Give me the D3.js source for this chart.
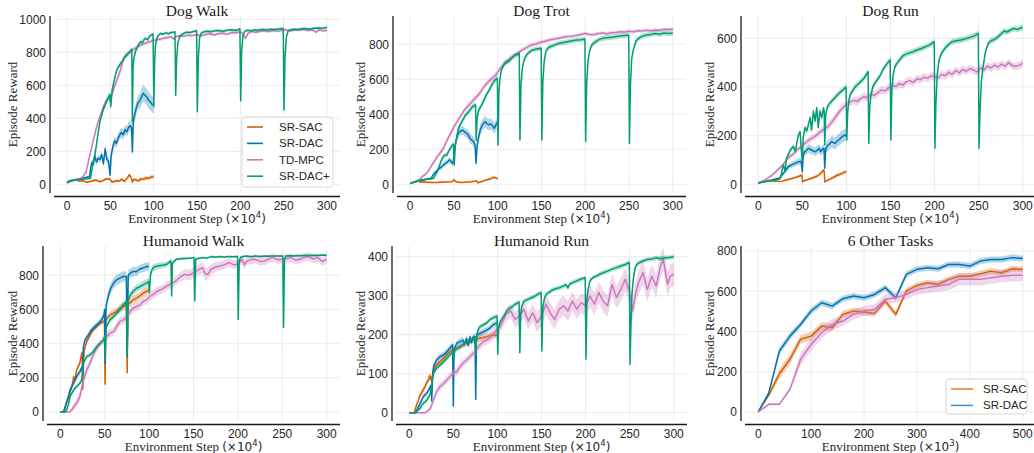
<!DOCTYPE html>
<html><head><meta charset="utf-8">
<script src="https://cdn.jsdelivr.net/npm/d3@7"></script>
<style>body{margin:0;background:#fff}svg{display:block}</style>
</head><body><svg id="c" width="1034" height="453"></svg>
<script>
// ---------------- DATA ([step, mean reward, half band]) ----------------
const seriesNames = ["SR-SAC", "SR-DAC", "TD-MPC", "SR-DAC+"];
const stepTicks = [0, 50, 100, 150, 200, 250, 300];
const otherTicks = [0, 100, 200, 300, 400, 500];

// Dog Walk
const dwSAC = [[0,8,3],[3,15,4],[6,22,5],[9,28,5],[12,24,5],[15,20,6],[18,22,6],[21,16,6],[24,12,6],[27,18,6],[30,22,7],[33,26,7],[36,20,7],[39,16,7],[42,24,8],[45,32,8],[48,34,8],[50,28,8],[52,14,8],[55,18,8],[58,22,8],[61,20,8],[63,32,9],[66,18,9],[68,28,9],[70,42,10],[72,58,10],[74,42,10],[75.5,14,10],[77,30,10],[80,26,10],[83,20,10],[85,34,11],[88,30,11],[91,38,12],[94,36,12],[97,44,12],[100,45,12]];
const dwDAC = [[0,12,4],[3,22,5],[6,24,5],[9,26,6],[12,30,6],[15,34,6],[18,36,7],[21,40,7],[24,44,8],[26,46,8],[27.5,105,15],[29,135,18],[30.5,120,18],[32,175,20],[34,135,20],[36,158,22],[38,150,22],[40,180,22],[42,125,24],[44,215,25],[46,150,25],[48,140,25],[49.6,55,25],[51,175,25],[53,230,28],[55,262,28],[57,248,28],[59,280,30],[61,300,30],[63,315,30],[65,300,30],[67,330,30],[69,318,32],[71,345,32],[73,355,32],[74.6,340,32],[75.4,196,30],[76.5,380,35],[78,420,40],[80,465,40],[82,495,45],[84,505,45],[86,530,48],[88,552,50],[90,540,50],[92,530,50],[94,510,50],[96,500,50],[98,485,50],[100,480,50]];
const dwTD = [[0,10,4],[4,18,5],[8,26,6],[12,32,6],[16,36,7],[19,50,8],[22,75,10],[24,120,12],[26,170,14],[28,215,15],[30,260,16],[32,300,16],[34,345,18],[36,380,18],[38,410,18],[40,440,18],[42,470,18],[44,495,18],[46,515,18],[48,525,18],[50,505,18],[52,545,18],[54,580,20],[56,610,20],[58,640,20],[60,665,20],[62,700,20],[64,740,20],[66,765,18],[68,785,18],[70,790,16],[72,800,16],[75,812,15],[78,822,15],[81,832,14],[84,840,14],[87,848,13],[90,855,12],[93,860,12],[96,866,12],[100,872,12],[104,876,11],[108,880,11],[112,886,10],[116,890,10],[120,895,10],[123,880,10],[126,896,10],[130,900,10],[135,898,10],[140,904,9],[145,902,9],[150,906,9],[155,900,9],[160,908,9],[165,912,9],[170,905,9],[175,914,9],[180,916,9],[185,910,9],[190,920,9],[195,918,9],[200,924,9],[203,912,9],[206,884,12],[209,916,9],[213,926,9],[218,922,9],[223,928,9],[228,930,9],[233,926,9],[238,932,9],[243,928,9],[248,934,9],[253,936,8],[258,930,8],[263,936,8],[268,934,8],[273,938,8],[278,932,8],[283,936,8],[287,922,8],[291,936,8],[295,930,8],[300,932,8]];
const dwPlus = [[0,10,4],[4,20,5],[8,24,5],[12,28,5],[16,30,5],[20,32,5],[24,34,5],[27,36,6],[28.5,80,10],[30,130,12],[32,175,15],[34,240,15],[36,315,15],[38,380,15],[40,420,15],[42,455,14],[44,480,14],[46,505,14],[48,530,14],[49.5,545,14],[50.5,470,14],[52,570,14],[54,620,14],[56,665,14],[58,700,14],[60,715,13],[62,735,13],[64,745,13],[66,770,12],[68,775,12],[70,790,12],[72,800,12],[74,812,12],[74.8,818,12],[75.4,380,15],[76.2,700,15],[77,760,14],[79,805,12],[81,830,12],[83,850,11],[85,865,11],[87,858,11],[89,878,10],[91,884,10],[93,876,10],[95,895,10],[97,904,10],[99.3,910,10],[100.2,470,15],[101,720,15],[102,840,12],[104,890,10],[106,906,9],[108,914,9],[111,910,9],[114,918,9],[117,912,9],[120,920,9],[123,922,8],[124.6,924,8],[125.4,540,15],[126.5,760,12],[128,860,10],[130,895,9],[133,910,9],[136,918,8],[139,922,8],[142,920,8],[146,926,8],[149.5,930,8],[150.4,440,15],[151.5,760,12],[153,890,10],[155,918,9],[158,924,8],[162,928,8],[166,924,8],[170,930,8],[175,932,8],[180,928,8],[185,934,8],[190,936,8],[195,932,8],[199.5,942,8],[200.4,505,15],[201.5,800,12],[203,900,10],[205,926,8],[208,934,8],[212,930,8],[216,936,8],[220,934,8],[225,938,8],[230,936,8],[235,940,8],[240,938,8],[245,942,8],[249.5,944,8],[250.4,450,15],[251.5,760,12],[253,890,10],[255,928,8],[258,936,8],[262,940,8],[266,938,8],[270,942,8],[275,944,8],[280,940,8],[285,946,8],[290,948,8],[295,946,8],[300,950,8]];

// Dog Trot
const dtSAC = [[10,12,3],[15,14,3],[20,12,4],[25,10,4],[30,11,4],[35,12,4],[40,13,4],[45,14,5],[48,16,5],[50,26,5],[52,16,5],[55,12,5],[60,11,5],[65,13,5],[70,15,5],[74,18,5],[76,20,5],[77.5,8,5],[80,14,6],[83,18,6],[86,24,6],[89,28,7],[92,32,7],[95,40,8],[97,38,8],[100,32,8]];
const dtDAC = [[0,5,3],[4,12,4],[8,18,5],[12,22,5],[16,26,6],[20,30,6],[24,34,6],[27,60,8],[30,75,10],[33,90,12],[36,100,14],[39,115,15],[42,125,16],[45,140,18],[47,128,18],[49,120,18],[50.5,180,20],[52,240,22],[54,280,25],[56,298,25],[58,305,25],[60,310,25],[62,300,25],[64,292,25],[66,285,28],[68,265,28],[70,255,28],[72,245,28],[74,230,28],[75.3,120,25],[76.5,220,28],[78,265,30],[80,310,32],[82,335,32],[84,350,32],[86,358,32],[88,345,32],[90,340,32],[92,345,32],[94,335,32],[96,320,32],[98,340,32],[100,358,32]];
const dtTD = [[0,5,3],[4,10,4],[8,15,5],[11,28,6],[14,45,7],[17,55,8],[20,70,9],[23,95,10],[26,120,12],[29,142,13],[32,165,14],[35,185,15],[38,205,16],[41,240,16],[44,270,16],[47,298,16],[50,328,16],[53,352,16],[56,378,16],[59,400,16],[62,425,16],[65,442,16],[68,458,16],[71,475,16],[74,492,16],[77,505,16],[80,525,18],[83,548,18],[86,568,18],[89,585,18],[92,598,18],[95,612,18],[98,625,18],[101,648,18],[104,668,18],[107,690,17],[110,702,16],[113,715,16],[116,725,16],[120,740,15],[124,752,15],[128,768,14],[132,778,14],[136,790,13],[140,798,13],[144,802,12],[148,810,12],[152,815,12],[156,820,12],[160,826,11],[165,830,11],[170,835,11],[175,840,11],[180,845,10],[185,846,10],[190,850,10],[195,856,10],[200,862,10],[205,856,10],[210,855,10],[215,862,10],[220,864,10],[225,860,10],[230,866,10],[235,868,10],[240,872,10],[245,870,10],[250,874,10],[255,872,10],[260,878,10],[265,876,10],[270,880,10],[275,878,10],[280,882,10],[285,880,10],[290,886,10],[295,884,10],[300,888,10]];
const dtPlus = [[0,5,3],[4,12,4],[8,20,5],[12,24,5],[16,28,5],[20,30,5],[24,32,6],[27,35,6],[29,55,8],[31,72,10],[33,100,12],[35,128,12],[37,150,14],[39,165,14],[42,168,14],[44,190,15],[46,205,15],[48,222,15],[49.6,228,15],[50.4,110,15],[51.5,220,16],[53,265,16],[55,318,16],[57,340,16],[59,358,16],[61,375,16],[63,395,16],[65,405,16],[67,415,16],[69,430,16],[71,442,16],[73,450,16],[74.7,455,16],[75.4,250,18],[76.5,380,16],[78,420,16],[80,440,16],[82,455,16],[84,478,16],[86,500,16],[88,520,16],[90,535,16],[92,555,16],[94,575,16],[96,590,16],[98,600,16],[99.6,606,16],[100.4,225,18],[101.3,520,18],[102.5,600,16],[104,650,16],[106,672,16],[108,690,15],[110,696,15],[113,705,15],[116,722,15],[119,735,15],[122,742,15],[124.6,748,15],[125.4,253,18],[126.5,560,18],[128,660,16],[130,710,15],[133,740,15],[136,755,15],[139,765,14],[142,770,14],[146,775,14],[149.6,778,14],[150.4,253,18],[151.5,580,18],[153,700,16],[155,760,15],[158,782,14],[162,790,14],[166,798,14],[170,806,14],[175,810,14],[180,815,14],[185,820,14],[190,824,14],[195,826,14],[199.6,830,14],[200.4,244,18],[201.5,560,18],[203,700,16],[205,765,15],[208,800,15],[212,815,15],[216,828,15],[220,834,15],[225,838,15],[230,840,15],[235,844,15],[240,848,15],[245,850,15],[249.6,853,15],[250.4,234,18],[251.5,560,18],[253,720,16],[255,770,16],[258,820,15],[262,838,15],[266,848,15],[270,853,15],[275,856,15],[280,862,15],[285,858,15],[290,864,15],[295,862,15],[300,864,15]];

// Dog Run
const drSAC = [[0,5,3],[4,10,3],[8,14,3],[12,14,3],[16,14,3],[20,13,3],[24,11,3],[28,14,4],[32,18,4],[36,22,4],[40,26,5],[44,30,5],[47,34,5],[49.3,38,5],[50.3,10,5],[52,15,5],[55,18,5],[58,22,5],[61,25,6],[64,30,6],[67,34,6],[70,42,7],[72,50,7],[74,58,8],[74.8,55,8],[75.5,10,6],[77,14,6],[80,18,6],[83,24,6],[86,30,7],[89,36,7],[92,40,8],[95,45,8],[98,50,8],[100,52,9]];
const drDAC = [[0,5,3],[4,8,4],[8,11,4],[12,15,5],[16,18,5],[20,22,5],[24,25,6],[27,38,7],[30,52,8],[32,62,10],[34,72,12],[36,76,12],[38,80,12],[40,84,13],[42,86,13],[44,90,14],[46,93,14],[48.6,95,14],[50,52,12],[51,120,15],[53,134,16],[55,140,17],[57,148,18],[59,144,18],[61,140,18],[63,136,18],[65,134,18],[67,140,18],[69,148,18],[71,134,18],[73,145,18],[74.6,148,18],[75.4,66,15],[76.6,148,20],[79,160,22],[81,166,22],[83,175,24],[85,172,24],[87,168,24],[89,176,24],[91,182,25],[93,188,25],[95,195,25],[97,200,25],[99,204,25],[100,196,25]];
const drTD = [[0,5,3],[4,12,4],[8,18,5],[12,28,5],[16,38,6],[20,52,6],[24,66,7],[28,80,8],[32,100,9],[36,115,10],[40,125,10],[44,142,11],[48,152,12],[52,165,12],[56,178,12],[60,188,13],[64,196,13],[68,208,14],[72,220,14],[76,230,14],[80,240,15],[84,258,15],[88,278,16],[92,298,16],[96,315,16],[100,328,16],[104,338,16],[108,345,16],[112,340,16],[116,352,16],[120,360,16],[124,356,16],[128,370,16],[132,366,16],[136,378,16],[140,388,16],[144,384,16],[148,396,16],[152,408,16],[156,402,16],[160,414,16],[164,408,16],[168,422,16],[172,426,16],[176,418,16],[180,434,16],[184,430,16],[188,440,16],[192,436,16],[196,446,16],[200,442,16],[204,438,16],[208,452,16],[212,446,16],[216,460,16],[220,452,16],[224,468,16],[228,458,16],[232,472,16],[236,464,16],[240,476,16],[244,470,16],[248,462,16],[252,478,16],[256,470,16],[260,486,16],[264,478,16],[268,490,16],[272,482,16],[276,494,16],[280,486,16],[284,500,16],[288,488,16],[292,484,16],[296,490,16],[300,497,16]];
const drPlus = [[0,5,3],[4,8,3],[8,11,3],[12,14,3],[16,18,3],[20,18,3],[24,22,4],[25.5,28,5],[27,59,8],[28.7,79,9],[30.5,52,9],[32,107,10],[34,121,10],[36,138,10],[38,148,10],[40,155,10],[42,134,10],[44,175,11],[45.6,203,11],[47.5,216,11],[48.7,148,11],[50,93,10],[51,192,11],[53,233,12],[55,219,12],[57,247,12],[59,274,12],[60.5,222,12],[62.6,301,12],[64.5,260,12],[66.4,315,12],[68,233,12],[70,301,12],[72,274,12],[74,315,12],[74.8,300,12],[75.4,162,12],[76.6,288,12],[78,312,12],[80,329,12],[82,335,12],[84,345,12],[86,352,12],[88,360,12],[90,368,12],[92,375,12],[94,382,12],[96,388,12],[98.6,397,12],[99.6,400,12],[100.4,182,12],[101.5,300,12],[103,350,12],[105,374,12],[108,390,12],[111,405,12],[114,414,12],[117,425,12],[120,436,12],[122,448,12],[124.6,463,12],[125.4,168,12],[126.5,320,12],[128,370,12],[130,401,12],[133,420,12],[136,434,12],[139,452,12],[142,475,12],[145,490,12],[147,500,12],[149.6,511,12],[150.4,182,12],[151.5,380,12],[153,450,12],[155,484,12],[158,500,12],[161,514,12],[164,528,12],[167,534,12],[170,538,12],[175,544,12],[180,552,12],[185,558,12],[190,566,12],[195,574,12],[199.6,586,12],[200.4,148,12],[201.5,330,12],[203,450,12],[205,511,12],[208,540,12],[212,560,12],[216,575,12],[220,586,12],[225,590,12],[230,593,12],[235,598,12],[240,604,12],[245,610,12],[249.6,620,12],[250.4,148,12],[251.5,300,12],[253,420,12],[255,484,12],[258,550,12],[261,580,12],[264,590,12],[267,594,12],[270,600,12],[273,610,12],[276,620,12],[279,630,12],[282,626,12],[285,632,12],[288,638,12],[291,640,12],[294,636,12],[297,642,12],[300,644,12]];

// Humanoid Walk
const hwSAC = [[0,0,2],[3,0,3],[5,21,8],[7,51,10],[9,80,12],[11,115,14],[13,148,15],[15,207,16],[16.5,187,16],[18.4,246,16],[20,265,16],[22,285,16],[23.5,330,16],[24.5,350,16],[25.3,133,16],[26.2,300,16],[27,363,16],[29.7,412,15],[33.5,451,15],[37,480,15],[41,500,15],[45,519,15],[48.5,529,15],[49.7,535,15],[50.4,162,15],[51.2,540,16],[53,549,16],[56,568,18],[60,578,20],[63.5,588,22],[67,607,22],[71,617,24],[74.4,627,24],[75.3,230,20],[76.2,630,24],[78,637,24],[82,656,24],[86,666,24],[90,680,24],[93,695,24],[97,705,24],[100,715,24]];
const hwDAC = [[0,0,2],[4,0,3],[6,41,8],[9,90,12],[11,129,14],[15,168,15],[18.4,207,16],[22,236,16],[24.5,265,16],[25.3,220,16],[26,382,16],[27.8,421,16],[31.6,451,16],[35,480,16],[39,500,16],[42.9,519,16],[46.6,539,18],[49.2,568,20],[49.9,600,22],[50.5,285,22],[51.5,617,25],[53,656,28],[56,715,30],[60,754,30],[63.5,773,30],[67,783,30],[71,793,30],[74.4,793,30],[75.3,324,25],[76.5,802,30],[79,812,28],[82,822,28],[86,822,26],[89,835,25],[92,841,25],[95,846,25],[97,851,24],[100,851,24]];
const hwTD = [[0,0,2],[5,0,3],[10,0,4],[13,12,15],[15,31,20],[18.4,51,25],[22,90,30],[24,139,30],[26,187,30],[29.7,246,28],[33.5,285,26],[37,334,25],[41,373,25],[45,402,25],[48.5,421,25],[52,441,25],[56,461,25],[60,470,25],[63.5,500,25],[67,529,25],[71,539,25],[75,559,25],[78.6,588,25],[82,607,25],[86,617,25],[90,627,25],[93,646,25],[97,656,25],[101,676,25],[105,690,25],[110,708,25],[115,720,25],[120,737,25],[125,750,25],[130,766,25],[135,790,28],[140,805,30],[145,800,30],[150,815,32],[155,830,32],[160,844,35],[163,810,38],[166,805,38],[170,835,30],[175,848,28],[180,854,25],[185,862,25],[190,874,25],[195,862,25],[200,864,25],[203,880,25],[205,893,25],[207,860,25],[210,883,25],[215,890,25],[220,893,25],[225,880,25],[230,883,25],[235,896,25],[240,903,25],[245,890,25],[250,893,25],[255,898,25],[260,903,25],[265,888,25],[270,893,25],[275,905,25],[280,909,25],[285,895,25],[290,903,25],[295,880,25],[300,893,25]];
const hwPlus = [[0,0,2],[5,0,3],[7,12,6],[9,41,8],[11,90,10],[15,129,12],[18,148,12],[22,168,12],[24,187,12],[25,226,12],[26,285,12],[29.7,324,12],[33.5,334,12],[37,353,12],[41,383,12],[45,402,12],[48.6,421,12],[49.8,441,12],[50.5,300,14],[51.3,470,14],[52,500,14],[56,539,15],[60,559,16],[63.5,578,18],[67,598,20],[71,627,20],[74.4,646,20],[75.3,330,18],[76.2,650,20],[78,676,22],[82,705,22],[86,724,22],[90,734,22],[93,744,22],[97,754,22],[99.6,763,22],[100.4,698,22],[101.5,800,22],[103,830,22],[105,845,20],[108,852,20],[111,855,18],[115,858,18],[120,864,16],[124.6,884,14],[125.4,679,14],[126.3,870,12],[128,880,10],[131,894,8],[135,896,8],[140,898,7],[145,900,7],[150.6,903,7],[151.4,650,10],[152.5,895,7],[155,898,6],[160,903,6],[165,900,6],[170,909,6],[175,905,6],[180,909,6],[185,906,6],[190,910,6],[195,908,6],[199.6,909,6],[200.4,542,10],[201.5,880,8],[203,905,6],[206,910,6],[210,912,6],[215,908,6],[220,912,6],[225,910,6],[230,913,6],[235,911,6],[240,913,6],[245,912,6],[250.6,913,6],[251.4,494,10],[252.5,890,8],[254,912,6],[258,914,6],[262,912,6],[266,915,6],[270,914,6],[275,916,6],[280,915,6],[285,917,6],[290,916,6],[295,918,6],[300,917,6]];

// Humanoid Run
const hrSAC = [[0,0,1],[6,0,2],[7,11,4],[9,24,6],[10.5,32,7],[12,45,8],[14,50,8],[16,60,8],[18,67,8],[20,78,8],[22,84,8],[23,95,8],[24,92,8],[25.6,80,8],[26.5,100,8],[27.5,109,8],[31,122,8],[35,131,8],[39,139,8],[42.6,148,8],[46,156,8],[49.6,161,8],[50.4,150,8],[51.5,160,8],[54,165,8],[57.6,169,8],[61,174,8],[65,178,8],[69,182,8],[72.6,186,8],[74.6,188,8],[75.4,175,8],[76.5,188,8],[80,191,8],[84,193,8],[88,195,8],[91,197,8],[95,200,8],[98,198,8],[100,200,8]];
const hrDAC = [[0,0,1],[7,0,2],[8.7,7,4],[10.5,16,5],[12.5,24,6],[14,32,6],[16,41,6],[18,46,6],[20,50,6],[22,58,6],[24,67,6],[24.8,70,6],[25.5,30,6],[26.5,90,8],[27.5,118,8],[31,135,8],[35,144,8],[39,148,8],[42.6,156,8],[46,165,8],[49.2,174,8],[50,17,8],[50.8,160,8],[52,169,8],[54,178,8],[57.6,182,8],[61,186,8],[63,176,8],[65,191,8],[67,172,8],[69,195,8],[70.5,180,8],[72.6,195,8],[74.6,196,8],[75.4,34,8],[76.3,190,8],[77,200,8],[80,203,8],[84,207,8],[88,212,8],[91,216,8],[95,225,8],[98,229,8],[100,230,8]];
const hrTD = [[0,0,1],[10,0,2],[18,0,3],[20,3,4],[24,11,6],[27.5,32,8],[31,54,9],[35,67,10],[39,75,10],[42.6,84,10],[46,92,10],[50,101,10],[54,105,10],[57.6,118,10],[61,127,10],[65,135,10],[69,144,10],[72.6,152,10],[76,161,10],[80,174,12],[84,182,12],[88,186,12],[91,191,12],[95,200,14],[99,212,14],[103,220,15],[106,234,16],[110,252,18],[115,261,18],[120,239,20],[125,248,20],[130,265,22],[135,235,22],[140,256,22],[145,231,25],[150,248,25],[155,278,25],[160,256,25],[165,239,25],[170,265,25],[175,274,25],[180,261,25],[185,286,25],[190,265,25],[195,282,25],[200,274,28],[205,299,28],[210,278,28],[215,308,28],[220,286,28],[225,274,28],[230,329,28],[235,295,28],[240,316,30],[245,342,30],[250,308,30],[253,261,30],[257,308,30],[260,333,30],[265,359,30],[270,316,30],[275,350,30],[280,325,30],[285,376,30],[288,393,30],[290,368,30],[293,329,30],[296,350,30],[300,355,30]];
const hrPlus = [[0,0,1],[7,0,2],[8.7,3,3],[10.5,8,4],[12.5,11,4],[14,18,5],[16,24,5],[18,28,5],[20,32,5],[22,40,5],[24,50,5],[25,60,5],[25.7,75,6],[26.5,90,6],[27.5,101,6],[31,114,6],[35,122,6],[39,131,6],[42.6,139,6],[46,148,6],[49.6,156,6],[50.4,140,6],[51.5,160,6],[54,165,6],[57.6,169,6],[61,174,6],[65,182,6],[69,186,6],[72.6,188,6],[74.6,191,6],[75.4,150,6],[76.5,200,6],[78,212,6],[80,220,6],[84,225,6],[88,230,6],[91,238,6],[95,243,6],[98,246,6],[99.6,248,6],[100.4,150,6],[101.3,215,6],[102.5,230,6],[105,240,6],[108,250,6],[111,262,6],[114,268,6],[117,272,6],[120,278,6],[122,280,6],[124.6,284,6],[125.4,154,6],[126.5,255,6],[128,275,6],[130,286,6],[134,290,6],[138,294,6],[142,298,6],[146,304,6],[149.6,308,6],[150.4,158,6],[151.5,270,6],[153,290,6],[155,303,6],[158,308,6],[162,314,6],[166,318,6],[170,320,6],[174,324,6],[178,328,6],[180,320,6],[182,330,6],[186,334,6],[190,338,6],[194,342,6],[197,344,6],[199.6,346,6],[200.4,137,6],[201.5,290,6],[203,318,6],[205,338,6],[208,346,6],[212,350,6],[216,355,6],[220,359,6],[225,363,6],[230,368,6],[235,372,6],[240,376,6],[245,380,6],[249.6,385,6],[250.4,124,6],[251.4,220,8],[252.5,300,8],[254,340,8],[256,370,8],[258,380,6],[261,385,6],[265,389,6],[270,393,6],[275,394,6],[280,397,6],[285,395,6],[290,397,6],[295,398,6],[300,400,6]];

// 6 Other Tasks (x in 10^3 steps)
const otSteps = [0,20,40,60,80,100,120,140,160,180,200,220,240,260,280,300,320,340,360,380,400,420,440,460,480,500];
const otSAC   = [0,85,190,262,361,377,427,419,485,502,497,490,551,485,601,629,642,634,659,675,675,687,700,692,712,709];
const otSACe  = [0,12,25,25,22,20,20,18,18,16,16,16,15,15,15,15,15,15,15,15,15,15,15,15,15,15];
const otDAC   = [0,95,303,377,435,502,543,526,563,576,568,584,618,568,684,709,717,712,733,733,725,750,758,758,767,763];
const otDACe  = [0,10,18,18,16,16,16,15,15,15,15,15,15,15,15,15,15,15,15,15,15,15,15,15,15,15];
const otTD    = [0,38,38,113,262,336,394,435,452,485,502,510,560,568,584,609,618,626,634,659,659,659,667,675,679,679];
const otTDe   = [0,5,5,10,30,30,30,28,25,25,25,25,25,25,25,25,28,28,28,30,30,30,30,30,30,30];

// ---------------- DRAWING ----------------
const COL = {"SR-SAC":"#d55e00","SR-DAC":"#0173b2","TD-MPC":"#cc78bc","SR-DAC+":"#029e73"};
const zipOT = (v,e) => otSteps.map((x,i)=>[x,v[i],e[i]]);

const panels = [
 {title:"Dog Walk", box:[54,340,16,193], xd:[-15,315], yd:[-52.7,1020], xt:stepTicks, yt:[0,200,400,600,800,1000], exp:"4", ylx:12,
  data:[dwSAC,dwDAC,dwTD,dwPlus], names:seriesNames, legend:{x:242,y:117,w:91,h:70,op:1}},
 {title:"Dog Trot", box:[397,686,16,193], xd:[-15,315], yd:[-49.7,961.7], xt:stepTicks, yt:[0,200,400,600,800], exp:"4", ylx:360,
  data:[dtSAC,dtDAC,dtTD,dtPlus], names:seriesNames},
 {title:"Dog Run", box:[745,1036,16,193], xd:[-15,315], yd:[-35.8,691.7], xt:stepTicks, yt:[0,200,400,600], exp:"4", ylx:709,
  data:[drSAC,drDAC,drTD,drPlus], names:seriesNames},
 {title:"Humanoid Walk", box:[47,340,246,421], xd:[-15,315], yd:[-52.7,971], xt:stepTicks, yt:[0,200,400,600,800], exp:"4", ylx:12,
  data:[hwSAC,hwDAC,hwTD,hwPlus], names:seriesNames},
 {title:"Humanoid Run", box:[396,687,246,421], xd:[-15,315], yd:[-21.3,427.4], xt:stepTicks, yt:[0,100,200,300,400], exp:"4", ylx:360,
  data:[hrSAC,hrDAC,hrTD,hrPlus], names:seriesNames},
 {title:"6 Other Tasks", box:[745,1036,246,421], xd:[-25,525], yd:[-44.7,824.8], xt:otherTicks, yt:[0,200,400,600,800], exp:"3", ylx:709,
  data:[zipOT(otSAC,otSACe),zipOT(otDAC,otDACe),zipOT(otTD,otTDe)], names:["SR-SAC","SR-DAC","TD-MPC"],
  legend:{x:946,y:379,w:81,h:35,op:0.75,only:["SR-SAC","SR-DAC"]}}
];

const svg = d3.select("#c");
const SANS = "'Liberation Sans', Arial, sans-serif";
const SERIF = "'Liberation Serif', 'Times New Roman', serif";
const MATH = "'DejaVu Sans', sans-serif";

panels.forEach(p => {
  const [L,R,T,B] = p.box;
  const x = d3.scaleLinear().domain(p.xd).range([L,R]);
  const y = d3.scaleLinear().domain(p.yd).range([B,T]);
  const g = svg.append("g");

  // grid
  g.selectAll(".gx").data(p.xt).join("line")
    .attr("x1",d=>x(d)).attr("x2",d=>x(d)).attr("y1",T).attr("y2",B)
    .attr("stroke","#ebebeb").attr("stroke-width",1);
  g.selectAll(".gy").data(p.yt).join("line")
    .attr("x1",L).attr("x2",R).attr("y1",d=>y(d)).attr("y2",d=>y(d))
    .attr("stroke","#ebebeb").attr("stroke-width",1);

  // series
  const clipId = "clip" + L + "_" + T;
  svg.append("clipPath").attr("id",clipId).append("rect").attr("x",L).attr("y",T).attr("width",R-L).attr("height",B-T);
  const sg = g.append("g").attr("clip-path",`url(#${clipId})`);
  const area = d3.area().x(d=>x(d[0])).y0(d=>y(d[1]-d[2])).y1(d=>y(d[1]+d[2]));
  const line = d3.line().x(d=>x(d[0])).y(d=>y(d[1]));
  p.data.forEach((s,i) => {
    const c = COL[p.names[i]];
    sg.append("path").datum(s).attr("d",area).attr("fill",c).attr("fill-opacity",0.3).attr("stroke","none");
    sg.append("path").datum(s).attr("d",line).attr("fill","none").attr("stroke",c)
      .attr("stroke-width",1.5).attr("stroke-linejoin","round");
  });

  // spines (offset)
  const sp = g.append("g").attr("stroke","#1a1a1a").attr("stroke-width",1.3);
  sp.append("line").attr("x1",L-4).attr("x2",L-4).attr("y1",T).attr("y2",B);
  sp.append("line").attr("x1",L).attr("x2",R).attr("y1",B+3.5).attr("y2",B+3.5);

  // tick labels
  g.selectAll(".tx").data(p.xt).join("text")
    .attr("x",d=>x(d)).attr("y",B+16.5).attr("text-anchor","middle")
    .attr("font-family",SANS).attr("font-size",12).attr("fill","#262626").text(d=>d);
  g.selectAll(".ty").data(p.yt).join("text")
    .attr("x",L-8).attr("y",d=>y(d)).attr("dy","0.36em").attr("text-anchor","end")
    .attr("font-family",SANS).attr("font-size",12).attr("fill","#262626").text(d=>d);

  // title
  g.append("text").attr("x",(L+R)/2).attr("y",T).attr("text-anchor","middle")
    .attr("font-family",SERIF).attr("font-size",15.5).attr("fill","#1a1a1a").text(p.title);

  // y label
  g.append("text").attr("transform",`translate(${p.ylx},${(T+B)/2}) rotate(-90)`)
    .attr("text-anchor","middle").attr("dy","0.35em")
    .attr("font-family",SERIF).attr("font-size",13).attr("fill","#262626").text("Episode Reward");

  // x label
  const xl = g.append("text").attr("x",(L+R)/2).attr("y",B+30).attr("text-anchor","middle")
    .attr("font-family",SERIF).attr("font-size",13).attr("fill","#262626");
  xl.append("tspan").text("Environment Step ");
  xl.append("tspan").attr("font-family",MATH).attr("font-size",12).text("(×10");
  xl.append("tspan").attr("font-family",MATH).attr("font-size",8.5).attr("dy",-5).text(p.exp);
  xl.append("tspan").attr("font-family",MATH).attr("font-size",12).attr("dy",5).text(")");

  // legend
  if (p.legend) {
    const lg = p.legend;
    const items = lg.only || p.names;
    g.append("rect").attr("x",lg.x).attr("y",lg.y).attr("width",lg.w).attr("height",lg.h).attr("rx",3)
      .attr("fill","#fff").attr("fill-opacity",0.85).attr("stroke","#d6d6d6").attr("stroke-width",1);
    items.forEach((n,i) => {
      const yy = lg.y + 10 + i*16.4;
      g.append("line").attr("x1",lg.x+5).attr("x2",lg.x+ (lg.only?27:21)).attr("y1",yy).attr("y2",yy)
        .attr("stroke",COL[n]).attr("stroke-width",1.6).attr("stroke-opacity",lg.op);
      g.append("text").attr("x",lg.x+(lg.only?37:37)).attr("y",yy).attr("dy","0.35em")
        .attr("font-family",SANS).attr("font-size",11.5).attr("fill","#262626").text(n);
    });
  }
});
</script></body></html>
